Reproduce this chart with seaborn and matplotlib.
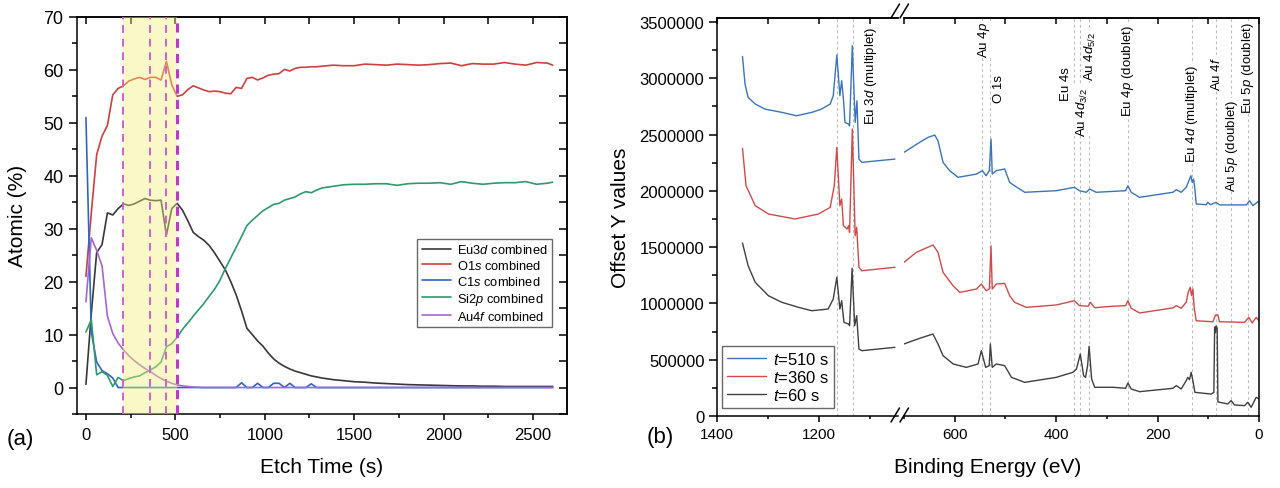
import numpy as np
import pandas as pd
import matplotlib
matplotlib.use("Agg")
import matplotlib.pyplot as plt
import seaborn as sns
from matplotlib.ticker import MultipleLocator, StrMethodFormatter
from matplotlib.lines import Line2D

# ---------------- data: panel (a) depth profile ----------------
etch_time = [0, 30, 60, 90, 120, 150, 180, 210, 240, 270, 300, 330, 360, 390, 420,
             450, 480, 510, 540, 570, 600, 630, 660, 690, 720, 750, 780, 810, 840, 870,
             900, 930, 960, 990, 1020, 1050, 1080, 1110, 1140, 1170, 1200, 1230, 1260, 1290, 1320,
             1380, 1440, 1500, 1560, 1620, 1680, 1740, 1800, 1860, 1920, 1980, 2040, 2100,
             2160, 2220, 2280, 2340, 2400, 2460, 2520, 2580, 2610]
eu3d = [0.6, 14, 25.5, 27, 33, 32.6, 33.8, 34.7, 34.4, 34.7, 35.2, 35.7, 35.4, 35.3, 35.4,
        28.8, 33.8, 34.8, 33.5, 31.5, 29.3, 28.5, 27.8, 26.8, 25.4, 23.8, 22.2, 20.0, 17.5, 14.5,
        11.2, 10.0, 8.8, 7.8, 6.5, 5.4, 4.6, 4.0, 3.5, 3.1, 2.8, 2.5, 2.2, 2.0, 1.8,
        1.5, 1.3, 1.1, 1.0, 0.85, 0.75, 0.65, 0.55, 0.5, 0.45, 0.4, 0.35, 0.3,
        0.3, 0.25, 0.25, 0.2, 0.2, 0.2, 0.2, 0.2, 0.2]
o1s = [21, 33, 44, 47.5, 49.5, 55.3, 56.5, 57, 57.9, 58.3, 58.6, 58.2, 58.6, 58.6, 58.1,
       61.6, 57.2, 55, 55.3, 56.3, 57, 56.6, 56.2, 55.9, 56.0, 55.9, 55.6, 55.5, 56.7, 56.5,
       58.4, 58.6, 58.1, 58.5, 59.0, 59.2, 59.3, 60.1, 59.8, 60.3, 60.5, 60.5, 60.6, 60.6, 60.7,
       60.9, 60.8, 60.8, 61.1, 61.0, 60.9, 61.1, 61.0, 60.9, 61.0, 61.2, 61.3, 60.8,
       61.2, 61.1, 61.1, 61.4, 61.1, 60.9, 61.4, 61.3, 60.9]
c1s = [51, 10.5, 4.8, 3.2, 2.6, 1.8, 0, 0, 0, 0, 0, 0, 0, 0, 0,
       0, 0, 0, 0, 0, 0, 0, 0, 0, 0, 0, 0, 0, 0, 0.9,
       0, 0, 0.8, 0, 0, 0.8, 0.8, 0, 0.8, 0, 0, 0, 0.7, 0, 0,
       0, 0, 0, 0, 0, 0, 0, 0, 0, 0, 0, 0, 0,
       0, 0, 0, 0, 0, 0, 0, 0, 0]
si2p = [10.5, 12.8, 2.4, 3.0, 2.3, 0.2, 1.9, 1.3, 1.7, 2.0, 2.2, 2.8, 3.3, 3.9, 4.8,
        7.7, 8.3, 9.5, 11, 12.2, 13.5, 14.7, 15.9, 17.3, 18.6, 20.3, 22.5, 24.5, 26.5, 28.5,
        30.6, 31.6, 32.5, 33.4, 34.0, 34.6, 34.8, 35.4, 35.7, 36.0, 36.6, 37.0, 36.8, 37.3, 37.7,
        38.0, 38.3, 38.4, 38.4, 38.5, 38.5, 38.2, 38.5, 38.6, 38.6, 38.7, 38.4, 38.9,
        38.6, 38.4, 38.6, 38.7, 38.7, 38.9, 38.4, 38.6, 38.8]
au4f = [16.2, 28.3, 25.9, 23, 13.5, 10.2, 8.4, 7.1, 6.0, 5.1, 4.3, 3.6, 3.0, 2.3, 1.7,
        1.2, 0.8, 0.5, 0.3, 0.2, 0.1, 0.05, 0, 0, 0, 0, 0, 0, 0, 0,
        0, 0, 0, 0, 0, 0, 0, 0, 0, 0, 0, 0, 0, 0, 0,
        0, 0, 0, 0, 0, 0, 0, 0, 0, 0, 0, 0, 0,
        0, 0, 0, 0, 0, 0, 0, 0, 0]
series_names = ["Eu3d", "O1s", "C1s", "Si2p", "Au4f"]
series_labels = [r"Eu3$\mathit{d}$ combined", r"O1$\mathit{s}$ combined", r"C1$\mathit{s}$ combined",
                 r"Si2$\mathit{p}$ combined", r"Au4$\mathit{f}$ combined"]
series_colors = ["#383838", "#cc4040", "#2f66c0", "#2f9a6c", "#a566d4"]
band = (210, 510)
dashed_times = [210, 360, 450, 510]

# ---------------- data: panel (b) survey spectra (counts / 1000) ----------------
e_510 = [1350, 1345, 1339, 1325, 1306, 1273, 1244, 1214, 1195, 1178, 1172, 1165, 1159, 1155.5,
         1152, 1149, 1142, 1140, 1134.6, 1129, 1125.5, 1121.6, 1116, 1051,
         700, 669, 652.5, 639.4, 633, 623, 610, 593.4, 557, 545.5, 538, 531.8, 528.4, 526, 518,
         501.5, 491.6, 482, 462, 400, 364, 354, 340.6, 334, 321, 288, 263, 258.5, 252, 235.5,
         169.8, 163, 153.4, 143.5, 138.2, 134.3, 131.7, 129, 126.4, 123.8, 104, 100.8, 96, 84.4,
         78, 25, 18.7, 12, 2.3, 0]
i_510 = [3194, 2948, 2830, 2771, 2726, 2697, 2667, 2697, 2726, 2771, 2845, 3206, 2845, 2978,
         2815, 2608, 2593, 2578, 3289, 2608, 2800, 2282, 2253, 2282,
         2342, 2431, 2475, 2495, 2445, 2253, 2179, 2120, 2149, 2179, 2134, 2179, 2460, 2149, 2179,
         2194, 2075, 2045, 1987, 2001, 2031, 2001, 1987, 2016, 1987, 1995, 2001, 2045, 1987, 1942,
         1987, 2010, 1987, 2031, 2090, 2134, 2075, 2105, 2016, 1883, 1877, 1898, 1877, 1898,
         1875, 1875, 1912, 1868, 1903, 1898]
e_360 = [1350, 1343, 1325, 1299, 1247, 1201, 1178, 1170, 1165, 1159, 1155.5, 1152, 1145, 1142,
         1140, 1134.6, 1129, 1126, 1121.6, 1116, 1051,
         700, 675.5, 642.7, 633, 623, 603.3, 590, 557, 547.5, 538, 531.8, 528.4, 526, 518, 501.5,
         491.6, 482, 458.7, 400, 364, 354, 337, 332.7, 324, 288, 263, 258.5, 252, 235.5, 169.8,
         163, 153.4, 143.5, 139.6, 135.6, 133, 130.4, 127.7, 123.8, 91, 85.7, 81, 78, 28.6, 20,
         13.5, 5.6, 0]
i_360 = [2377, 2045, 1868, 1794, 1750, 1794, 1853, 2045, 2386, 1868, 1927, 1690, 1661, 1690,
         1631, 2549, 1601, 1676, 1321, 1290, 1321,
         1365, 1454, 1519, 1454, 1276, 1157, 1098, 1128, 1172, 1113, 1128, 1512, 1128, 1172, 1178,
         1068, 1010, 965, 986, 1024, 980, 975, 1010, 962, 975, 980, 1024, 957, 915, 960,
         980, 957, 1010, 1098, 1143, 1069, 1128, 957, 846, 837, 897, 897, 837, 832, 876,
         826, 876, 846]
e_60 = [1350, 1339, 1325, 1299, 1273, 1240, 1214, 1182, 1172, 1165, 1159, 1155.5, 1151, 1142,
        1140, 1135, 1130, 1126, 1121.6, 1116, 1051,
        700, 669, 643, 633, 623, 603, 577, 554, 547.5, 539, 532, 529.7, 526, 518, 501.5, 488, 462,
        400, 367, 360, 352.4, 345.8, 342, 338, 335, 330, 324, 288, 263, 258.5, 252, 235.5, 170,
        163, 153.4, 143.5, 140.5, 137, 133.7, 130.4, 126.4, 94.3, 89, 87.5, 86, 84.5, 82.5, 81,
        61.5, 55, 48.3, 28.6, 22, 15.5, 5.6, 0]
i_60 = [1536, 1335, 1187, 1068, 1010, 965, 935, 950, 1039, 1232, 950, 1024, 832, 817,
        802, 1312, 802, 891, 595, 580, 610,
        640, 690, 728, 640, 536, 462, 432, 462, 580, 432, 447, 640, 432, 462, 447, 343, 299,
        343, 388, 417, 550, 358, 343, 447, 619, 329, 255, 255, 246, 293, 240, 216, 246,
        270, 240, 314, 343, 323, 388, 314, 210, 195, 210, 790, 740, 800, 780, 125,
        107, 137, 98, 92, 122, 77, 166, 151]
spec_names = ["t=510 s", "t=360 s", "t=60 s"]
spec_labels = [r"$\mathit{t}$=510 s", r"$\mathit{t}$=360 s", r"$\mathit{t}$=60 s"]
spec_colors = ["#3a74bd", "#d04a4a", "#404040"]

peak_lines_hi = [1165, 1134]
peak_lines_lo = [547, 530, 365, 353, 335, 258, 133, 84, 56, 21]
annot_hi = [(1098, 0.980, r"Eu 3$\mathit{d}$ (multiplet)")]
annot_lo = [(543, 0.992, r"Au 4$\mathit{p}$"),
            (513, 0.859, "O 1s"),
            (381, 0.879, "Eu 4s"),
            (348, 0.827, r"Au 4$\mathit{d}_{\mathrm{3/2}}$"),
            (332, 0.967, r"Au 4$\mathit{d}_{\mathrm{5/2}}$"),
            (259, 0.985, r"Eu 4$\mathit{p}$ (doublet)"),
            (133, 0.884, r"Eu 4$\mathit{d}$ (multiplet)"),
            (84, 0.905, r"Au 4$\mathit{f}$"),
            (54, 0.797, r"Au 5$\mathit{p}$ (doublet)"),
            (22, 0.992, r"Eu 5$\mathit{p}$ (doublet)")]

# ---------------- style ----------------
sns.set_theme(style="ticks")
plt.rcParams["font.family"] = ["Liberation Sans", "DejaVu Sans"]
plt.rcParams["mathtext.fontset"] = "custom"
plt.rcParams["mathtext.rm"] = "Liberation Sans"
plt.rcParams["mathtext.it"] = "Liberation Sans:italic"
plt.rcParams["axes.edgecolor"] = "black"
plt.rcParams["axes.linewidth"] = 1.1
plt.rcParams["xtick.color"] = "black"
plt.rcParams["ytick.color"] = "black"
plt.rcParams["text.color"] = "black"
plt.rcParams["axes.labelcolor"] = "black"

W, H = 1280, 489
fig = plt.figure(figsize=(W / 100, H / 100), dpi=100)


def box(l, t, r, b):
    return [l / W, 1 - b / H, (r - l) / W, (b - t) / H]


# ================= panel (a) =================
axA = fig.add_axes(box(77, 18, 567, 415))
df_a = pd.DataFrame({
    "t": etch_time * 5,
    "pct": eu3d + o1s + c1s + si2p + au4f,
    "series": sum([[n] * len(etch_time) for n in series_names], []),
})
sns.lineplot(data=df_a, x="t", y="pct", hue="series", hue_order=series_names,
             palette=series_colors, ax=axA, estimator=None, sort=False, lw=1.2, legend=True)
axA.set_xlim(-50, 2690)
axA.set_ylim(-5, 70)
axA.axvspan(*band, color="#f6f07c", alpha=0.42, lw=0, zorder=3)
for i, tt in enumerate(dashed_times):
    last = i == len(dashed_times) - 1
    axA.axvline(tt, color="#b83cc8" if last else "#d060d0", lw=2.2 if last else 1.4,
                ls=(0, (4, 3)) if not last else (0, (3, 2)), zorder=4)
handles, _ = axA.get_legend_handles_labels()
leg = axA.legend(handles, series_labels, loc="lower right", bbox_to_anchor=(0.969, 0.219),
                 borderaxespad=0, fontsize=9.3, frameon=True, fancybox=False, edgecolor="#444444",
                 handlelength=2.3, handletextpad=0.4, labelspacing=0.22, borderpad=0.35)
leg.get_frame().set_linewidth(1.0)
for h in leg.get_lines():
    h.set_linewidth(1.2)

axA.set_xlabel("")
axA.set_ylabel("")
axA.xaxis.set_major_locator(MultipleLocator(500))
axA.xaxis.set_minor_locator(MultipleLocator(250))
axA.yaxis.set_major_locator(MultipleLocator(10))
axA.yaxis.set_minor_locator(MultipleLocator(5))
axA.tick_params(axis="x", which="major", direction="out", length=4.5, width=1.1, labelsize=12, pad=5)
axA.tick_params(axis="x", which="minor", direction="out", length=2.6, width=1.1)
axA.tick_params(axis="y", which="major", direction="out", length=5.8, width=1.1, labelsize=13, pad=4)
axA.tick_params(axis="y", which="minor", direction="out", length=3.6, width=1.1)
sx = axA.secondary_xaxis("top")
sx.xaxis.set_major_locator(MultipleLocator(500))
sx.xaxis.set_minor_locator(MultipleLocator(250))
sx.tick_params(which="both", direction="in", length=5, width=1.1, labeltop=False)
sy = axA.secondary_yaxis("right")
sy.yaxis.set_major_locator(MultipleLocator(10))
sy.yaxis.set_minor_locator(MultipleLocator(5))
sy.tick_params(which="both", direction="in", length=5.5, width=1.1, labelright=False)

fig.text(322 / W, 1 - 468 / H, "Etch Time (s)", ha="center", va="center", fontsize=15)
fig.text(18 / W, 1 - 216 / H, "Atomic (%)", ha="center", va="center", rotation=90, fontsize=15)
fig.text(20 / W, 1 - 440 / H, "(a)", ha="center", va="center", fontsize=16)

# ================= panel (b) =================
axL = fig.add_axes(box(717, 19, 898, 417))
axR = fig.add_axes(box(904, 19, 1259, 417), sharey=axL)

e_all = e_510 + e_360 + e_60
i_all = i_510 + i_360 + i_60
lab_all = [spec_names[0]] * len(e_510) + [spec_names[1]] * len(e_360) + [spec_names[2]] * len(e_60)
df_b = pd.DataFrame({"E": e_all, "I": np.array(i_all, dtype=float) * 1000, "spec": lab_all})
df_b["seg"] = np.where(df_b["E"] > 900, "hi", "lo")

sns.lineplot(data=df_b[df_b.seg == "hi"], x="E", y="I", hue="spec", hue_order=spec_names,
             palette=spec_colors, ax=axL, estimator=None, sort=False, lw=1.0, legend=True)
sns.lineplot(data=df_b[df_b.seg == "lo"], x="E", y="I", hue="spec", hue_order=spec_names,
             palette=spec_colors, ax=axR, estimator=None, sort=False, lw=1.0, legend=False)

axL.set_xlim(1400, 1045)
axR.set_xlim(700, 0)
axL.set_ylim(0, 3535000)
for ax in (axL, axR):
    ax.set_xlabel("")
    ax.set_ylabel("")
axL.spines["right"].set_visible(False)
axR.spines["left"].set_visible(False)

for x in peak_lines_hi:
    axL.axvline(x, color="#bdbdbd", lw=0.8, ls=(0, (2.5, 2.5)), zorder=0.5)
for x in peak_lines_lo:
    axR.axvline(x, color="#bdbdbd", lw=0.8, ls=(0, (2.5, 2.5)), zorder=0.5)
for ax, ann in ((axL, annot_hi), (axR, annot_lo)):
    for x, y, s in ann:
        ax.text(x, y, s, transform=ax.get_xaxis_transform(), rotation=90, ha="center", va="top",
                fontsize=9.5, zorder=5,
                bbox=dict(facecolor="white", edgecolor="none", pad=0.4))

axL.yaxis.set_major_locator(MultipleLocator(500000))
axL.yaxis.set_minor_locator(MultipleLocator(250000))
axL.yaxis.set_major_formatter(StrMethodFormatter("{x:.0f}"))
axL.xaxis.set_major_locator(MultipleLocator(200))
axL.xaxis.set_minor_locator(MultipleLocator(100))
axR.xaxis.set_major_locator(MultipleLocator(200))
axR.xaxis.set_minor_locator(MultipleLocator(100))
axL.tick_params(axis="y", which="major", direction="out", length=6, width=1.1, labelsize=12, pad=3)
axL.tick_params(axis="y", which="minor", direction="out", length=3.5, width=1.1)
axR.tick_params(axis="y", which="both", left=False, right=False, labelleft=False, labelright=False)
for ax in (axL, axR):
    ax.tick_params(axis="x", which="major", direction="out", length=4, width=1.1, labelsize=11, pad=4)
    ax.tick_params(axis="x", which="minor", direction="out", length=2.5, width=1.1)
    st = ax.secondary_xaxis("top")
    st.xaxis.set_major_locator(MultipleLocator(200))
    st.xaxis.set_minor_locator(MultipleLocator(100))
    st.tick_params(which="both", direction="in", length=4.5, width=1.1, labeltop=False)
    if ax is axL:
        st.spines["right"].set_visible(False)
    else:
        st.spines["left"].set_visible(False)

handles, _ = axL.get_legend_handles_labels()
legB = axL.legend(handles, spec_labels, loc="lower left", bbox_to_anchor=(0.028, 0.02),
                  borderaxespad=0, fontsize=12, frameon=True, fancybox=False, edgecolor="#444444",
                  handlelength=2.35, handletextpad=0.4, labelspacing=0.12, borderpad=0.3)
legB.get_frame().set_linewidth(1.0)

# axis-break marks
for ytop in (419, 15):
    for x0 in (891, 900):
        fig.add_artist(Line2D([x0 / W, (x0 + 8.5) / W], [1 - (ytop + 4) / H, 1 - (ytop - 10) / H],
                              transform=fig.transFigure, color="black", lw=1.1))

fig.text(988 / W, 1 - 468 / H, "Binding Energy (eV)", ha="center", va="center", fontsize=15)
fig.text(620 / W, 1 - 218 / H, "Offset Y values", ha="center", va="center", rotation=90, fontsize=15)
fig.text(660 / W, 1 - 438 / H, "(b)", ha="center", va="center", fontsize=16)

fig.savefig("out.png", dpi=100)
